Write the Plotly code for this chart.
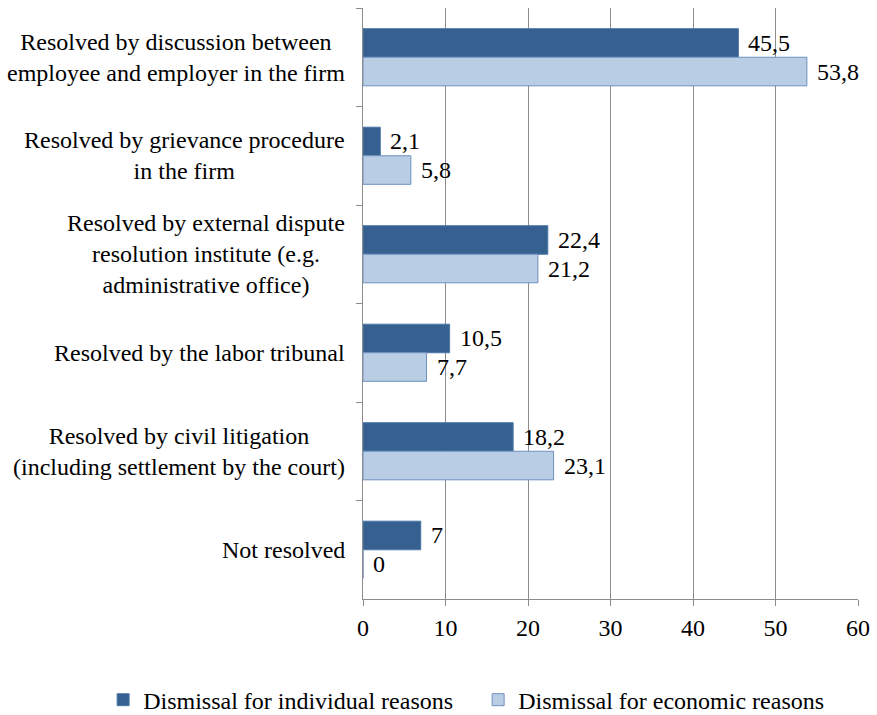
import plotly.graph_objects as go

categories = [
    "Resolved by discussion between<br>employee and employer in the firm",
    "Resolved by grievance procedure<br>in the firm",
    "Resolved by external dispute<br>resolution institute (e.g.<br>administrative office)",
    "Resolved by the labor tribunal",
    "Resolved by civil litigation<br>(including settlement by the court)",
    "Not resolved",
]
individual = [45.5, 2.1, 22.4, 10.5, 18.2, 7]
economic = [53.8, 5.8, 21.2, 7.7, 23.1, 0]
series_names = ["Dismissal for individual reasons", "Dismissal for economic reasons"]
x_ticks = [0, 10, 20, 30, 40, 50, 60]

FONT = "'Times New Roman', 'Liberation Serif', 'DejaVu Serif', serif"
FS = 24
DARK, DARK_EDGE = "#35608F", "#4C77A8"
LIGHT, LIGHT_EDGE = "#B9CDE5", "#6F90BE"
GRID = "#8C8C8C"

fig = go.Figure()
fig.add_trace(go.Bar(
    y=categories, x=individual, orientation="h", name=series_names[0],
    marker=dict(color=DARK, line=dict(color=DARK_EDGE, width=1)),
))
fig.add_trace(go.Bar(
    y=categories, x=economic, orientation="h", name=series_names[1],
    marker=dict(color=LIGHT, line=dict(color=LIGHT_EDGE, width=1)),
))


def fmt(v):
    return f"{v:g}".replace(".", ",")


bargap = 0.42
half = (1 - bargap) / 4  # centre offset of each bar within its group
annotations = []
for i, cat in enumerate(categories):
    # category labels, lines centred
    annotations.append(dict(
        x=0, xref="x", y=i, yref="y", text=cat, showarrow=False,
        xanchor="right", align="center", xshift=-16,
        font=dict(family=FONT, size=FS, color="#000000"),
    ))
    for vals, off in ((individual, -half), (economic, half)):
        annotations.append(dict(
            x=vals[i], xref="x", y=i + off, yref="y", text=fmt(vals[i]),
            showarrow=False, xanchor="left", xshift=8,
            font=dict(family=FONT, size=FS, color="#000000"),
        ))

fig.update_layout(
    width=877, height=715,
    margin=dict(l=363, r=19, t=8, b=116, autoexpand=False),
    paper_bgcolor="white", plot_bgcolor="white",
    barmode="group", bargap=bargap, bargroupgap=0,
    font=dict(family=FONT, size=FS, color="#000000"),
    showlegend=True,
    legend=dict(
        orientation="h", x=-0.525, xanchor="left", y=-0.133, yanchor="top",
        font=dict(family=FONT, size=FS), itemwidth=30,
        entrywidth=330, entrywidthmode="pixels",
        traceorder="normal",
    ),
    annotations=annotations,
)
fig.update_xaxes(
    range=[0, 60], tickvals=x_ticks, showgrid=True, gridcolor=GRID, gridwidth=1,
    zeroline=False, showline=True, linecolor=GRID, linewidth=1,
    ticks="outside", ticklen=6, tickcolor=GRID, ticklabelstandoff=1,
    tickfont=dict(family=FONT, size=FS),
)
fig.update_yaxes(
    autorange="reversed", showticklabels=False, showgrid=False,
    showline=True, linecolor=GRID, linewidth=1,
    ticks="outside", ticklen=6, tickcolor=GRID, tickson="boundaries",
)

fig.write_html("out.html")
